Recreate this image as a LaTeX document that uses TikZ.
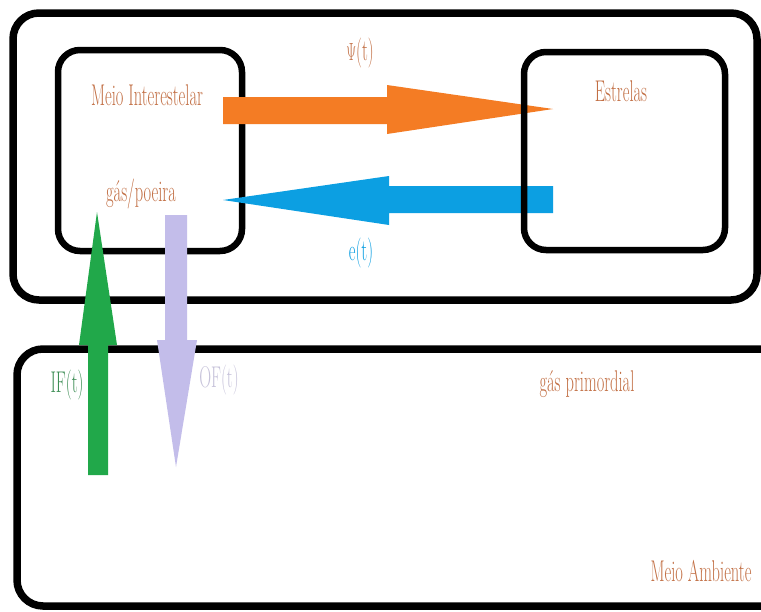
\documentclass[tikz,border=0pt]{standalone}
\usepackage{graphicx}
\definecolor{txtbrown}{HTML}{C26F44}
\definecolor{sfrorange}{HTML}{F47C24}
\definecolor{ejblue}{HTML}{0C9FE2}
\definecolor{infgreen}{HTML}{21A84A}
\definecolor{infgreentxt}{HTML}{3E8E55}
\definecolor{outlav}{HTML}{C3BDEA}
\definecolor{outlavtxt}{HTML}{C6C2DA}
\newcommand\narrow[1]{\scalebox{0.55}[1]{#1}}
\tikzset{
  frame/.style={draw=black, line width=7.5pt, rounded corners=26pt},
  innerframe/.style={draw=black, line width=6.5pt, rounded corners=22pt},
  lbl/.style={inner sep=0pt, font=\fontsize{30}{30}\selectfont, text=txtbrown},
}
\begin{document}
\begin{tikzpicture}[x=1pt, y=-1pt]
\useasboundingbox (0,0) rectangle (761,611);
\fill[white] (0,0) rectangle (761,611);

% outer compartments: galaxy and environment
\draw[frame] (13,13) rectangle (757,300);
\draw[frame] (17,349) rectangle (790,606);

% interstellar medium box
\draw[innerframe] (58,50) rectangle (242,251);

% flow arrows between the compartments
\coordinate (oA) at (223,97);
\coordinate (oTip) at (553,109);
\fill[sfrorange] (oA) -- (387,97) -- (387,85) -- (oTip) -- (387,134) -- (387,124) -- (223,124) -- cycle;

\coordinate (bTip) at (223,200);
\fill[ejblue] (553,186) -- (389,186) -- (389,176) -- (bTip) -- (389,225) -- (389,213) -- (553,213) -- cycle;

% stars box, drawn over the horizontal arrows
\draw[innerframe] (524,52) rectangle (725,250);

\coordinate (gTip) at (97,212);
\fill[infgreen] (88,475) -- (88,345) -- (79,345) -- (gTip) -- (117,345) -- (108,345) -- (108,475) -- cycle;

\coordinate (pTip) at (176,467);
\fill[outlav] (165,215) -- (187,215) -- (187,340) -- (197,340) -- (pTip) -- (157,340) -- (165,340) -- cycle;

% labels
\node[lbl] (ism) at (147,95) {\narrow{Meio Interestelar}};
\node[lbl] (gas) at (141,194) {\narrow{gás/poeira}};
\node[lbl] (stars) at (621,91) {\narrow{Estrelas}};
\node[lbl] (psi) at (360,53) {\narrow{\(\Psi\)(t)}};
\node[lbl, text=ejblue] (ej) at (361,253) {\narrow{e(t)}};
\node[lbl, text=infgreentxt] (inf) at (67,385) {\narrow{IF(t)}};
\node[lbl, text=outlavtxt] (outf) at (219,380) {\narrow{OF(t)}};
\node[lbl] (prim) at (587,384) {\narrow{gás primordial}};
\node[lbl] (env) at (701,571) {\narrow{Meio Ambiente}};
\end{tikzpicture}
\end{document}
